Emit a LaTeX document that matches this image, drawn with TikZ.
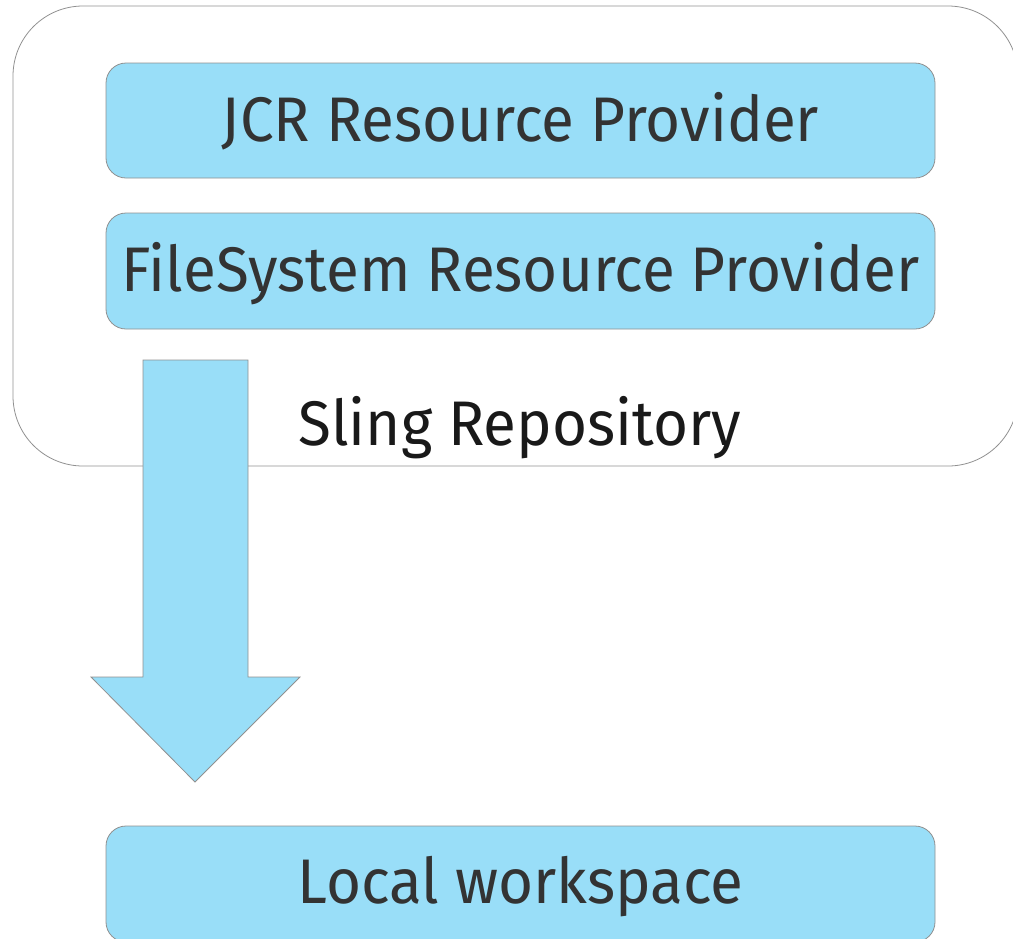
\documentclass[tikz,border=0pt]{standalone}
\usepackage{fontspec}
\setmainfont[FakeStretch=0.955]{Fira Sans}
\definecolor{boxblue}{HTML}{99DEF8}
\definecolor{edgegray}{HTML}{909090}
\definecolor{txtgray}{HTML}{333333}
\begin{document}
\begin{tikzpicture}[x=1pt,y=-1pt,
  provider/.style={draw=edgegray, line width=0.8pt, fill=boxblue, rounded corners=20pt},
  lbl/.style={text=txtgray, font=\fontsize{63}{70}\selectfont, inner sep=0pt, anchor=base},
  frame/.style={draw=edgegray, line width=0.8pt, rounded corners=70pt}]
\useasboundingbox (0,0) rectangle (1013,938);
\begin{scope}
\clip (0,0) rectangle (1013,938);
\draw[frame] (13,6) rectangle (1018,466);
\draw[provider] (106,63) rectangle (935,178);
\draw[provider] (106,213) rectangle (935,329);
\draw[provider] (106,826) rectangle (935,942);
\node[lbl] (jcr) at (520.5,141) {JCR Resource Provider};
\node[lbl] (fs) at (520.5,291) {FileSystem Resource Provider};
\node[lbl, text=black!90] (sling) at (520,445) {Sling Repository};
\node[lbl] (local) at (520.5,903) {Local workspace};
\draw[draw=edgegray, line width=0.8pt, fill=boxblue]
  (143,360) -- (248,360) -- (248,677) -- (300,677) -- (195,782) -- (91,677) -- (143,677) -- cycle;
\end{scope}
\end{tikzpicture}
\end{document}
